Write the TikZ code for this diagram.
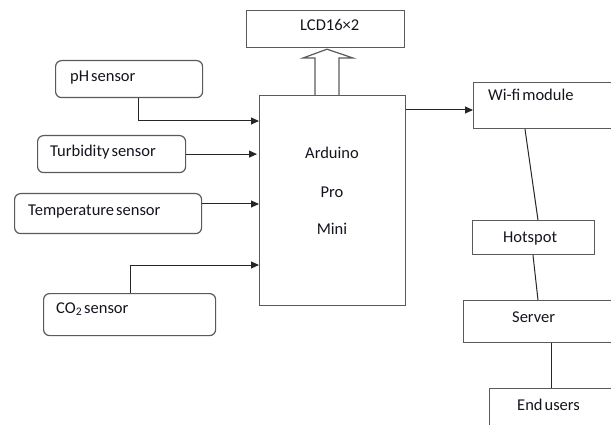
\documentclass[tikz,border=0pt]{standalone}
\usepackage{fontspec}
\setmainfont{Carlito}[WordSpace=0.55]
\usetikzlibrary{arrows.meta,calc}
\definecolor{boxgray}{HTML}{5A5A5A}
\definecolor{txtc}{HTML}{14141E}
\begin{document}
\begin{tikzpicture}[x=1pt,y=-1pt,
  rbox/.style={draw=boxgray, line width=1.2pt, rounded corners=6pt, anchor=north west, inner sep=0pt},
  sbox/.style={draw=boxgray, line width=1.2pt, anchor=north west, inner sep=0pt},
  txt/.style={font=\fontsize{16.5}{20}\selectfont, text=txtc, inner sep=0pt, anchor=base west},
  ctxt/.style={txt, anchor=base},
  conn/.style={draw=black!85, line width=1pt},
  arr/.style={conn, -{Triangle[length=8pt,width=7pt]}},
  hollow/.style={draw=boxgray, line width=1.2pt}]
\path[use as bounding box] (0,0) rectangle (611,425);
\clip (0,0) rectangle (611,425);
% boxes
\node[rbox, minimum width=147pt, minimum height=37pt] (ph) at (55,60) {};
\node[rbox, minimum width=148pt, minimum height=37pt] (turb) at (37,135) {};
\node[rbox, minimum width=187pt, minimum height=40pt] (temp) at (14,193) {};
\node[rbox, minimum width=172pt, minimum height=42pt] (co2) at (43,293) {};
\node[sbox, minimum width=146pt, minimum height=210pt] (ard) at (259,95) {};
\node[sbox, minimum width=158pt, minimum height=37pt] (lcd) at (246,10) {};
\node[sbox, minimum width=150pt, minimum height=46pt] (wifi) at (473,82) {};
\node[sbox, minimum width=122pt, minimum height=34pt] (hot) at (472,220) {};
\node[sbox, minimum width=160pt, minimum height=42pt] (serv) at (463,300) {};
\node[sbox, minimum width=130pt, minimum height=60pt] (end) at (489,388) {};
% texts
\node[txt] (phT) at ($(ph.north west)+(15,22)$) {pH sensor};
\node[txt] (turbT) at ($(turb.north west)+(13,22)$) {Turbidity sensor};
\node[txt] (tempT) at ($(temp.north west)+(14,22)$) {Temperature sensor};
\node[txt] (co2T) at ($(co2.north west)+(13,20)$) {CO\textsubscript{2} sensor};
\node[txt] (lcdT) at ($(lcd.north west)+(54,21)$) {LCD16×2};
\node[txt] (wifiT) at ($(wifi.north west)+(15,19)$) {Wi-fi module};
\node[txt] (hotT) at ($(hot.north west)+(31,22)$) {Hotspot};
\node[txt] (servT) at ($(serv.north west)+(49,22)$) {Server};
\node[txt] (endT) at ($(end.north west)+(28,22)$) {End users};
\node[ctxt] (ardT1) at ($(ard.north west)+(73,64)$) {Arduino};
\node[ctxt] (ardT2) at ($(ard.north west)+(73,102)$) {Pro};
\node[ctxt] (ardT3) at ($(ard.north west)+(73,140)$) {Mini};
% connector anchors
\coordinate (phA) at ($(ph.south west)+(83,0)$);
\coordinate (ardPh) at ($(ard.north west)+(0,26)$);
\coordinate (tempA) at ($(temp.north east)+(0,11)$);
\coordinate (co2A) at ($(co2.north west)+(87,0)$);
\coordinate (ardCo2) at ($(ard.north west)+(0,170)$);
\coordinate (ardOut) at ($(ard.north east)+(0,15)$);
% connectors
\draw[arr] (phA) |- (ardPh);
\draw[arr, shorten >=2pt] (turb.east) -- (turb.east -| ard.west);
\draw[arr] (tempA) -- (tempA -| ard.west);
\draw[arr] (co2A) |- (ardCo2);
\draw[arr] (ardOut) -- (ardOut -| wifi.west);
\draw[conn] ($(wifi.south west)+(52,0)$) -- ($(hot.north west)+(66,0)$);
\draw[conn] ($(hot.south west)+(61,0)$) -- ($(serv.north west)+(75,0)$);
\draw[conn] ($(serv.south west)+(88,0)$) -- ($(end.north west)+(62,0)$);
% hollow arrow to LCD
\draw[hollow] ($(ard.north west)+(56,0)$) -- ++(0,-37) -- ++(-12,0)
  -- ($(lcd.south west)+(81,1)$) -- ($(ard.north west)+(94,-37)$) -- ++(-14,0) -- ++(0,37);
\end{tikzpicture}
\end{document}
